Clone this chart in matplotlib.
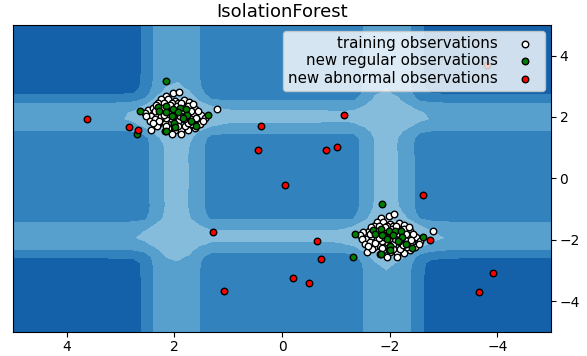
import numpy as np
import matplotlib
matplotlib.use("Agg")
import matplotlib.pyplot as plt

# offsets of the points from their cluster centre
# (both clusters have the same shape)
train_dx = [0.02, -0.08, 0.16, 0.24, 0.12, -0.01, -0.18, -0.27, 0.30, 0.19,
            0.05, -0.07, -0.16, 0.49, 0.39, 0.55, 0.44, 0.33, 0.23, 0.12,
            -0.01, -0.13, -0.29, -0.38, -0.49, -0.57, -0.80, -0.32, -0.41, -0.20,
            -0.07, 0.05, 0.18, 0.30, 0.43, 0.33, 0.12, -0.01, -0.13, -0.26,
            -0.38, -0.47, 0.05, 0.18, 0.52, 0.46, -0.35, -0.23, -0.10, 0.02,
            0.15, 0.27, 0.36, -0.54, -0.32, -0.20, -0.07, 0.21, 0.08, -0.04,
            -0.26, -0.35, 0.36, -0.44, -0.13, 0.24, 0.10, -0.05, 0.00, -0.25,
            0.28, 0.08, -0.12, 0.40, 0.20, -0.30, 0.15, -0.18, 0.35, -0.40]
train_dy = [0.77, 0.83, 0.70, 0.59, 0.59, 0.52, 0.55, 0.48, 0.46, 0.46,
            0.44, 0.46, 0.35, 0.24, 0.30, 0.14, 0.03, 0.08, 0.16, 0.19,
            0.24, 0.19, 0.24, 0.27, 0.08, -0.03, 0.27, 0.03, -0.08, -0.08,
            -0.14, -0.08, -0.19, -0.24, -0.41, -0.30, -0.35, -0.41, -0.43, -0.44,
            -0.35, -0.24, -0.57, -0.46, 0.03, -0.14, 0.14, 0.08, 0.03, 0.03,
            -0.03, -0.08, -0.08, -0.14, -0.24, -0.30, -0.30, 0.30, 0.35, 0.35,
            0.35, 0.41, 0.19, 0.19, -0.57, 0.03, 0.10, 0.15, -0.25, -0.18,
            -0.12, 0.40, 0.45, -0.20, 0.05, 0.20, -0.28, -0.05, 0.40, -0.02]
test_dx = [0.15, 0.64, 0.31, 0.16, 0.28, 0.15, 0.02, -0.10, -0.21, -0.07,
           -0.23, -0.16, 0.00, -0.01, 0.16, 0.69, -0.41, -0.62, -0.31, 0.05]
test_dy = [1.17, 0.20, 0.33, 0.35, 0.19, 0.16, 0.27, 0.30, 0.27, 0.17,
           0.08, -0.03, -0.19, -0.32, -0.46, -0.55, -0.28, 0.08, -0.14, 0.03]
centres = [2.0, -2.0]

outlier_x = [3.63, 2.85, 2.68, 0.39, 0.45, -1.15, -0.82, -1.02, -0.06, 1.28,
             -0.20, 1.08, -2.62, -0.65, -0.73, -0.50, -2.75, -3.91, -3.65, -3.81]
outlier_y = [1.92, 1.66, 1.59, 1.72, 0.91, 2.08, 0.94, 1.01, -0.23, -1.76,
             -3.25, -3.67, -0.55, -2.05, -2.63, -3.41, -2.02, -3.09, -3.71, 3.71]

tdx, tdy = np.array(train_dx), np.array(train_dy)
X_train = np.vstack([np.column_stack([tdx + c, tdy + c]) for c in centres])
X_test = np.vstack([np.column_stack([np.array(test_dx) + c, np.array(test_dy) + c])
                    for c in centres])
X_out = np.column_stack([outlier_x, outlier_y])

# anomaly-like score built from the training points
xx, yy = np.meshgrid(np.linspace(-5, 5, 50), np.linspace(-5, 5, 50))
grid = np.linspace(-5, 5, 50)


def axis_score(v, pts):
    d = v[:, None] - pts[None, :]
    dens = np.exp(-0.5 * (d / 0.10) ** 2).sum(1)
    dens = dens / dens.max()
    cdf = (1.0 / (1.0 + np.exp(-d / 0.35))).mean(1)
    depth = 2 * np.minimum(cdf, 1 - cdf)
    return 0.8 * depth + 2.0 * dens


sx = axis_score(grid, X_train[:, 0])[None, :]
sy = axis_score(grid, X_train[:, 1])[:, None]
d2 = ((xx[..., None] - X_train[:, 0]) ** 2 + (yy[..., None] - X_train[:, 1]) ** 2)
kde = np.exp(-d2 / (2 * 0.25 ** 2)).sum(-1)
kde = kde / kde.max()
Z = 1.5 + np.maximum(sx, sy) + 0.4 * np.minimum(sx, sy) + 1.3 * kde

fig = plt.figure(figsize=(5.87, 3.56), dpi=100)
ax = fig.add_axes([0.022, 0.068, 0.917, 0.862])
ax.set_title("IsolationForest", fontsize=13)
ax.contourf(xx, yy, Z, levels=np.arange(0, 9), cmap=plt.cm.Blues_r)

b1 = ax.scatter(X_train[:, 0], X_train[:, 1], c='white', s=22, edgecolor='k')
b2 = ax.scatter(X_test[:, 0], X_test[:, 1], c='green', s=22, edgecolor='k')
c = ax.scatter(X_out[:, 0], X_out[:, 1], c='red', s=22, edgecolor='k')

ax.set_xlim(5, -5)
ax.set_ylim(-5, 5)
ax.yaxis.tick_right()
ax.tick_params(labelsize=10, pad=2.5)
ax.legend([b1, b2, c],
          ["training observations", "new regular observations",
           "new abnormal observations"],
          loc="upper right", markerfirst=False, fontsize=10.8,
          labelspacing=0.15, borderpad=0.35, borderaxespad=0.4)

fig.savefig("out.png", dpi=100)
